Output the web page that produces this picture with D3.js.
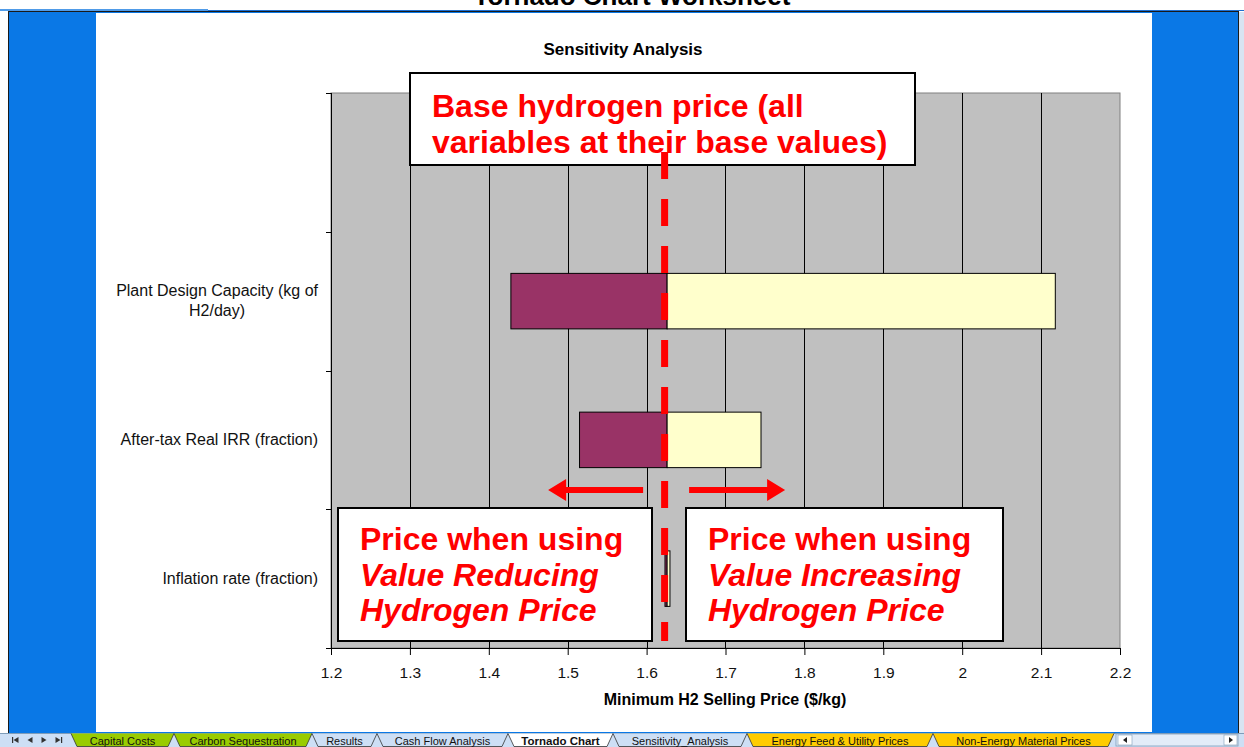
<!DOCTYPE html>
<html>
<head>
<meta charset="utf-8">
<script src="https://cdn.jsdelivr.net/npm/d3@7"></script>
<style>
  body { margin: 0; background: #fff; }
  svg { display: block; }
  text { font-family: "Liberation Sans", Arial, sans-serif; }
</style>
</head>
<body>
<svg width="1244" height="747"></svg>
<script>
// ---- data ----
const categories = ['', 'Plant Design Capacity (kg of H2/day)', 'After-tax Real IRR (fraction)', 'Inflation rate (fraction)']
const lowValues = [null, 1.428, 1.515, 1.6233]
const highValues = [null, 2.118, 1.745, 1.6296]
const baseValue = 1.626
const xTicks = [1.2, 1.3, 1.4, 1.5, 1.6, 1.7, 1.8, 1.9, 2.0, 2.1, 2.2]
const sheetTabs = ['Capital Costs', 'Carbon Sequestration', 'Results', 'Cash Flow Analysis', 'Tornado Chart',
  'Sensitivity_Analysis', 'Energy Feed & Utility Prices', 'Non-Energy Material Prices']
const tabEdges = [71, 174, 312, 377, 508, 613, 747, 933, 1114]
const tabColors = ['#99cc00', '#99cc00', '#cddff5', '#cddff5', '#ffffff', '#cddff5', '#ffcc00', '#ffcc00']

const svg = d3.select('svg')
const W = 1244, H = 747

// ---- window chrome ----
svg.append('rect').attr('width', W).attr('height', H).attr('fill', '#fff')
svg.append('text')
  .attr('x', 632).attr('y', 5)
  .attr('text-anchor', 'middle')
  .attr('font-size', 26).attr('font-weight', 'bold')
  .text('Tornado Chart Worksheet')
svg.append('rect').attr('x', 0).attr('y', 9).attr('width', 208).attr('height', 2).attr('fill', '#4f9be8')
svg.append('rect').attr('x', 208).attr('y', 10).attr('width', W - 208).attr('height', 1).attr('fill', '#1f6fd0')
svg.append('rect')
  .attr('x', 8.5).attr('y', 11.5).attr('width', 1230).attr('height', 722)
  .attr('fill', '#0a78e6').attr('stroke', '#1a1a1a')
svg.append('rect').attr('x', 96).attr('y', 13).attr('width', 1056).attr('height', 719).attr('fill', '#fff')
svg.append('rect').attr('x', 1239).attr('y', 12).attr('width', 5).attr('height', 721).attr('fill', '#d8e4f2')

// ---- sheet tabs ----
const tabBar = svg.append('g')
tabBar.append('rect').attr('x', 0).attr('y', 733).attr('width', W).attr('height', 14).attr('fill', '#cddff5')
tabBar.append('line').attr('x1', 0).attr('x2', W).attr('y1', 733.5).attr('y2', 733.5).attr('stroke', '#7f9db9')

// nav buttons
const navX = [12, 26, 40, 54]
navX.forEach((nx, i) => {
  const dir = i < 2 ? -1 : 1
  const cx = nx + 4
  tabBar.append('path')
    .attr('d', 'M' + (cx + 2.5 * dir) + ',740 L' + (cx - 2.5 * dir) + ',737 L' + (cx - 2.5 * dir) + ',743 Z')
    .attr('fill', '#333')
  if (i === 0) tabBar.append('rect').attr('x', cx - 4).attr('y', 737).attr('width', 1.2).attr('height', 6).attr('fill', '#333')
  if (i === 3) tabBar.append('rect').attr('x', cx + 3).attr('y', 737).attr('width', 1.2).attr('height', 6).attr('fill', '#333')
})

sheetTabs.forEach((name, i) => {
  const x0 = tabEdges[i], x1 = tabEdges[i + 1]
  tabBar.append('path')
    .attr('d', 'M' + x0 + ',733.5 L' + (x0 + 6) + ',746.5 L' + (x1 - 6) + ',746.5 L' + x1 + ',733.5')
    .attr('fill', tabColors[i])
    .attr('stroke', '#333').attr('stroke-width', 0.8)
  tabBar.append('text')
    .attr('x', (x0 + x1) / 2).attr('y', 744.5)
    .attr('text-anchor', 'middle')
    .attr('font-size', name === 'Tornado Chart' ? 11.5 : 11)
    .attr('font-weight', name === 'Tornado Chart' ? 'bold' : 'normal')
    .attr('fill', '#111')
    .text(name)
})
// horizontal scrollbar
tabBar.append('rect').attr('x', 1116).attr('y', 734).attr('width', 122).attr('height', 12).attr('fill', '#e3ecf8').attr('stroke', '#7f9db9').attr('stroke-width', 0.8)
tabBar.append('rect').attr('x', 1118).attr('y', 735).attr('width', 14).attr('height', 10).attr('fill', '#fff').attr('stroke', '#7f9db9').attr('stroke-width', 0.6)
tabBar.append('rect').attr('x', 1224).attr('y', 735).attr('width', 13).attr('height', 10).attr('fill', '#fff').attr('stroke', '#7f9db9').attr('stroke-width', 0.6)
tabBar.append('path').attr('d', 'M1123,740 L1127,737 L1127,743 Z').attr('fill', '#222')
tabBar.append('path').attr('d', 'M1233,740 L1229,737 L1229,743 Z').attr('fill', '#222')

// ---- chart ----
const plot = {left: 331, right: 1120, top: 93, bottom: 648}

const x = d3.scaleLinear().domain([1.2, 2.2]).range([plot.left, plot.right])
const y = d3.scaleBand().domain(categories).range([plot.top, plot.bottom]).padding(0)
const barH = y.bandwidth() * 0.4

svg.append('text')
  .attr('x', 623).attr('y', 55)
  .attr('text-anchor', 'middle')
  .attr('font-size', 17).attr('font-weight', 'bold')
  .text('Sensitivity Analysis')

svg.append('rect')
  .attr('x', plot.left).attr('y', plot.top)
  .attr('width', plot.right - plot.left).attr('height', plot.bottom - plot.top)
  .attr('fill', '#c0c0c0').attr('stroke', '#808080')

// gridlines
svg.append('g').selectAll('line')
  .data(xTicks.slice(1, -1))
  .enter().append('line')
  .attr('x1', d => Math.round(x(d)) + 0.5).attr('x2', d => Math.round(x(d)) + 0.5)
  .attr('y1', plot.top).attr('y2', plot.bottom)
  .attr('stroke', '#000')

// bars
const rows = categories.map((c, i) => ({cat: c, low: lowValues[i], high: highValues[i]})).filter(d => d.low !== null)
const bars = svg.append('g')
bars.selectAll('rect.low')
  .data(rows)
  .enter().append('rect')
  .attr('class', 'low')
  .attr('x', d => x(d.low))
  .attr('y', d => y(d.cat) + (y.bandwidth() - barH) / 2)
  .attr('width', d => x(baseValue) - x(d.low))
  .attr('height', barH)
  .attr('fill', '#993366').attr('stroke', '#000')
bars.selectAll('rect.high')
  .data(rows)
  .enter().append('rect')
  .attr('class', 'high')
  .attr('x', d => x(baseValue))
  .attr('y', d => y(d.cat) + (y.bandwidth() - barH) / 2)
  .attr('width', d => x(d.high) - x(baseValue))
  .attr('height', barH)
  .attr('fill', '#ffffcc').attr('stroke', '#000')

// x axis
const xAxis = svg.append('g')
  .attr('transform', 'translate(0,' + plot.bottom + ')')
  .call(d3.axisBottom(x).tickValues(xTicks).tickFormat(d3.format('')).tickSize(7).tickPadding(12))
xAxis.select('.domain').attr('stroke', '#000')
xAxis.selectAll('text').attr('font-size', 15.5).attr('fill', '#111').attr('font-family', '"Liberation Sans", Arial, sans-serif')

svg.append('text')
  .attr('x', 725).attr('y', 705)
  .attr('text-anchor', 'middle')
  .attr('font-size', 16).attr('font-weight', 'bold')
  .text('Minimum H2 Selling Price ($/kg)')

// y axis: line + ticks at category boundaries
const yAxis = svg.append('g')
yAxis.append('line')
  .attr('x1', plot.left + 0.5).attr('x2', plot.left + 0.5)
  .attr('y1', plot.top).attr('y2', plot.bottom)
  .attr('stroke', '#000')
yAxis.selectAll('line.tick')
  .data(categories.map(c => y(c)).concat([plot.bottom]))
  .enter().append('line')
  .attr('class', 'tick')
  .attr('x1', plot.left - 5).attr('x2', plot.left)
  .attr('y1', d => Math.round(d) + 0.5).attr('y2', d => Math.round(d) + 0.5)
  .attr('stroke', '#000')

// category labels, wrapped and centred like Excel
const labelRight = 318
const labelSize = 16
categories.forEach(c => {
  if (!c) return
  const t = yAxis.append('text').attr('font-size', labelSize).attr('fill', '#111').attr('text-anchor', 'middle')
  const words = c.split(' ')
  const lines = []
  let cur = []
  const probe = yAxis.append('text').attr('font-size', labelSize)
  words.forEach(w => {
    probe.text(cur.concat([w]).join(' '))
    if (probe.node().getComputedTextLength() > 215 && cur.length) {
      lines.push(cur.join(' '))
      cur = [w]
    } else cur.push(w)
  })
  lines.push(cur.join(' '))
  let maxW = 0
  lines.forEach(l => { probe.text(l); maxW = Math.max(maxW, probe.node().getComputedTextLength()) })
  probe.remove()
  const cy = y(c) + y.bandwidth() / 2
  const lh = 20
  lines.forEach((l, i) => {
    t.append('tspan')
      .attr('x', labelRight - maxW / 2)
      .attr('y', cy + 5 + (i - (lines.length - 1) / 2) * lh)
      .text(l)
  })
})

// ---- annotations ----
const baseX = x(baseValue)
const notes = svg.append('g')

function noteBox (bx, by, bw, bh, lines, startY) {
  notes.append('rect')
    .attr('x', bx).attr('y', by).attr('width', bw).attr('height', bh)
    .attr('fill', '#fff').attr('stroke', '#000').attr('stroke-width', 2)
  lines.forEach((l, i) => {
    notes.append('text')
      .attr('x', bx + 22).attr('y', startY + i * 35.5)
      .attr('font-size', 32).attr('font-weight', 'bold')
      .attr('font-style', l.italic ? 'italic' : 'normal')
      .attr('fill', '#ff0000')
      .text(l.text)
  })
}

noteBox(410, 73, 505, 92, [
  {text: 'Base hydrogen price (all'},
  {text: 'variables at their base values)'}
], 117)
noteBox(338, 508, 314, 133, [
  {text: 'Price when using'},
  {text: 'Value Reducing', italic: true},
  {text: 'Hydrogen Price', italic: true}
], 550)
noteBox(686, 508, 317, 133, [
  {text: 'Price when using'},
  {text: 'Value Increasing', italic: true},
  {text: 'Hydrogen Price', italic: true}
], 550)

// arrows
const arrowY = 490
function arrow (from, to) {
  const dir = Math.sign(to - from)
  const headBase = to - dir * 18
  notes.append('path')
    .attr('d', 'M' + from + ',' + (arrowY - 3) + ' L' + headBase + ',' + (arrowY - 3) +
      ' L' + headBase + ',' + (arrowY - 11) + ' L' + to + ',' + arrowY +
      ' L' + headBase + ',' + (arrowY + 11) + ' L' + headBase + ',' + (arrowY + 3) +
      ' L' + from + ',' + (arrowY + 3) + ' Z')
    .attr('fill', '#ff0000')
}
arrow(baseX - 24, baseX - 119)
arrow(baseX + 22, baseX + 118)

// base price dashed line
notes.append('line')
  .attr('x1', baseX - 2.5).attr('x2', baseX - 2.5)
  .attr('y1', 152).attr('y2', 641)
  .attr('stroke', '#ff0000').attr('stroke-width', 7)
  .attr('stroke-dasharray', '27,20')
</script>
</body>
</html>
